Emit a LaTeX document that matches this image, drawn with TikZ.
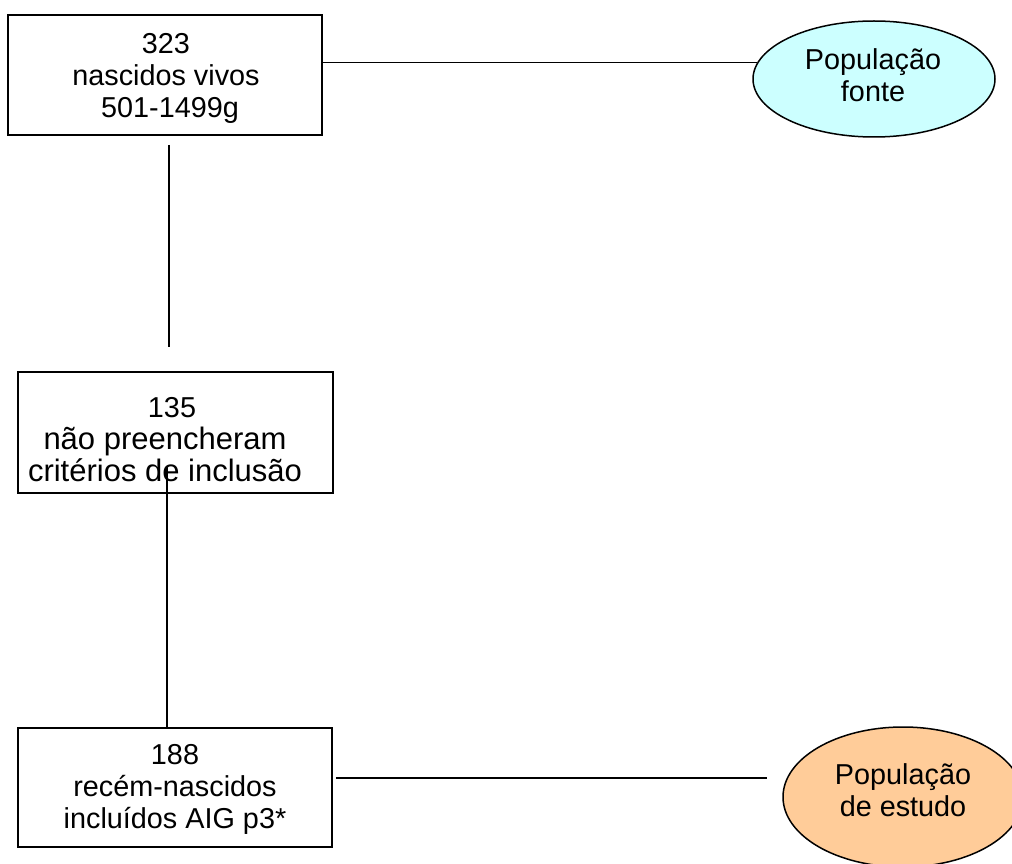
\documentclass[tikz,border=0pt]{standalone}
\usepackage{fontspec}
\setmainfont{Liberation Sans}
\usetikzlibrary{calc,shapes.geometric}
\definecolor{fontefill}{HTML}{CCFFFF}
\definecolor{estudofill}{HTML}{FFCC99}
\tikzset{
  boxnode/.style={draw=black, line width=1.6pt, minimum width=#1, inner sep=0pt},
  txt/.style={font=\fontsize{28.8}{32}\selectfont, align=center, inner sep=0pt},
  ell/.style={draw=black, line width=1.5pt, ellipse, inner sep=0pt},
  conn/.style={line width=1.6pt, draw=black}
}
\begin{document}
\begin{tikzpicture}[x=1pt,y=-1pt]
\useasboundingbox (0,0) rectangle (1012,864);
\clip (0,0) rectangle (1012,864);
% boxes
\node[boxnode=314pt, minimum height=120pt] (box1) at (165,75) {};
\node[boxnode=315pt, minimum height=121pt] (box2) at (175.5,432.5) {};
\node[boxnode=314pt, minimum height=119pt] (box3) at (175,787.5) {};
% ellipses
\node[ell, fill=fontefill, minimum width=242pt, minimum height=116pt] (e1) at (874,79) {};
\node[ell, fill=estudofill, minimum width=240pt, minimum height=140pt] (e2) at (903,797) {};
% texts
\begin{scope}
\clip (8,15) rectangle (322,124);
\node[txt] (t1) at (166,78.7) {323\\nascidos vivos\\\ 501-1499g};
\end{scope}
\node[txt] (t2) at (165,440) {\hspace*{14pt}135\\\fontsize{31}{32}\selectfont não preencheram\hspace*{12pt}\\\fontsize{31}{32}\selectfont critérios de inclusão};
\node[txt] (t3) at (175,789) {188\\recém-nascidos\\incluídos AIG p3*};
\node[txt] (te1) at (873,75.3) {População\\fonte};
\node[txt] (te2) at (903,790) {População\\de estudo};
% connectors
\draw[conn] (e1.172) -- (e1.172 -| box1.east);
\draw[conn] ([xshift=4pt,yshift=-9pt]box1.south) -- ([xshift=-6.5pt,yshift=24pt]box2.north);
\draw[conn] ([xshift=-8.5pt,yshift=27.5pt]box2.south) -- ([xshift=-8pt]box3.north);
\coordinate (a) at ([shift={(3pt,9.5pt)}]box3.east);
\draw[conn] (a) -- ($(a -| e2.west)+(-15pt,0pt)$);
\end{tikzpicture}
\end{document}
